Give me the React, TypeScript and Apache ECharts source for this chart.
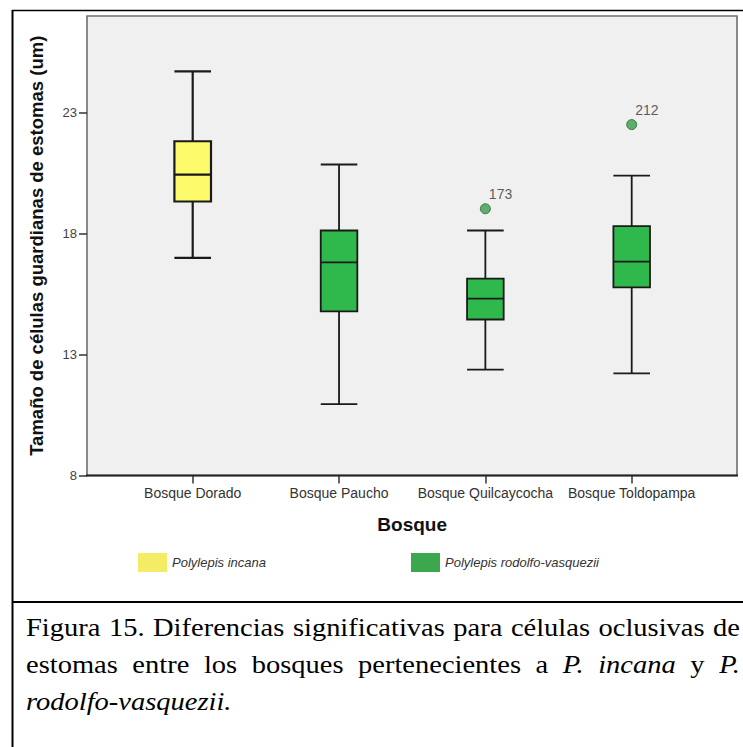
import React, { useEffect, useRef } from 'react';
import * as echarts from 'echarts';

// ---- data ----
const categories = ['Bosque Dorado', 'Bosque Paucho', 'Bosque Quilcaycocha', 'Bosque Toldopampa'];
// [min, Q1, median, Q3, max]
const boxDorado = [17.0, 19.33, 20.44, 21.82, 24.71];
const boxPaucho = [10.95, 14.79, 16.81, 18.13, 20.86];
const boxQuilcaycocha = [12.38, 14.45, 15.31, 16.14, 18.13];
const boxToldopampa = [12.22, 15.78, 16.84, 18.31, 20.4];
const boxes = [boxDorado, boxPaucho, boxQuilcaycocha, boxToldopampa];
const outlierCategories = ['Bosque Quilcaycocha', 'Bosque Toldopampa'];
const outlierValues = [19.03, 22.51];
const outlierIds = ['173', '212'];
const yTicks = [8, 13, 18, 23];
const speciesNames = ['Polylepis incana', 'Polylepis rodolfo-vasquezii'];
const speciesOfCategory = [0, 1, 1, 1];
const yAxisTitle = 'Tamaño de células guardianas de estomas (um)';
const xAxisTitle = 'Bosque';
// caption words: [word, italic]
const captionLine1: [string, boolean][] = [
  ['Figura', false], ['15.', false], ['Diferencias', false], ['significativas', false], ['para', false],
  ['células', false], ['oclusivas', false], ['de', false],
];
const captionLine2: [string, boolean][] = [
  ['estomas', false], ['entre', false], ['los', false], ['bosques', false], ['pertenecientes', false],
  ['a', false], ['P.', true], ['incana', true], ['y', false], ['P.', true],
];
const captionLine3: [string, boolean][] = [['rodolfo-vasquezii.', true]];

// ---- styles ----
const boxColors = ['#fdfb6c', '#2fb84b'];
const legendColors = ['#f3ec64', '#3ca84d'];
const sans = 'Liberation Sans, Arial, sans-serif';
const serif = 'Liberation Serif, Times New Roman, serif';
const CAP_SIZE = 25;
const CAP_STRETCH = 1.14;

function measure(text: string, italic: boolean): number {
  const c = document.createElement('canvas').getContext('2d');
  if (!c) return text.length * CAP_SIZE * 0.45;
  c.font = `${italic ? 'italic ' : ''}${CAP_SIZE}px "Liberation Serif", "Times New Roman", serif`;
  return c.measureText(text).width;
}

function buildLine(words: [string, boolean][], justifyWidth: number | null) {
  const total = words.reduce((s, [w, it]) => s + measure(w, it), 0);
  const gaps = words.length - 1;
  const spaceW = measure(' ', false);
  let gap = spaceW;
  if (justifyWidth && gaps > 0) gap = Math.max(spaceW * 0.8, (justifyWidth - total) / gaps);
  const text = words
    .map(([w, it], k) => `{${it ? 'i' : 'n'}|${w}}` + (k < gaps ? '{s| }' : ''))
    .join('');
  return {
    text,
    rich: {
      n: { fontSize: CAP_SIZE, fontFamily: serif, fill: '#000' },
      i: { fontSize: CAP_SIZE, fontFamily: serif, fontStyle: 'italic', fill: '#000' },
      s: { fontSize: CAP_SIZE, fontFamily: serif, fill: '#000', width: gap },
    },
  };
}

export default function App() {
  const ref = useRef<HTMLDivElement>(null);
  useEffect(() => {
    if (!ref.current) return;
    const chart = echarts.init(ref.current, null, { renderer: 'svg' });

    const capLeft = 26;
    const capWidth = 714 / CAP_STRETCH;
    const l1 = buildLine(captionLine1, capWidth);
    const l2 = buildLine(captionLine2, capWidth);
    const l3 = buildLine(captionLine3, null);
    const capStyle = { fontSize: CAP_SIZE, fontFamily: serif, fill: '#000', verticalAlign: 'middle', align: 'left' };

    const option: any = {
      animation: false,
      grid: { left: 192.7, right: 111.3, top: 16, bottom: 271.5, containLabel: false },
      xAxis: {
        type: 'category',
        data: categories,
        boundaryGap: false,
        axisLine: { show: false },
        axisTick: { show: true, length: 8, lineStyle: { color: '#333', width: 1.5 } },
        axisLabel: { interval: 0, fontSize: 14, color: '#333', margin: 10, fontFamily: sans },
        splitLine: { show: false },
        name: xAxisTitle,
        nameLocation: 'middle',
        nameGap: 39,
        nameTextStyle: { fontSize: 19, fontWeight: 'bold', color: '#111', fontFamily: sans },
      },
      yAxis: {
        type: 'value',
        min: 8,
        max: 27,
        interval: 5,
        offset: 105.7,
        axisLine: { show: false },
        axisTick: { show: true, length: 8, customValues: yTicks, lineStyle: { color: '#333', width: 1.5 } },
        axisLabel: { fontSize: 13, color: '#444', margin: 10, customValues: yTicks, fontFamily: sans },
        splitLine: { show: false },
        name: yAxisTitle,
        nameLocation: 'middle',
        nameGap: 41,
        nameTextStyle: { fontSize: 18.5, fontWeight: 'bold', color: '#111', fontFamily: sans },
      },
      legend: [
        {
          data: [speciesNames[0]],
          left: 138,
          top: 553,
          padding: 0,
          icon: 'rect',
          itemWidth: 29,
          itemHeight: 19,
          selectedMode: false,
          textStyle: { fontStyle: 'italic', fontSize: 13, color: '#333', fontFamily: sans },
        },
        {
          data: [speciesNames[1]],
          left: 411,
          top: 553,
          padding: 0,
          icon: 'rect',
          itemWidth: 29,
          itemHeight: 19,
          selectedMode: false,
          textStyle: { fontStyle: 'italic', fontSize: 13, color: '#333', fontFamily: sans },
        },
      ],
      graphic: [
        {
          type: 'rect',
          z: -10,
          silent: true,
          shape: { x: 87, y: 16, width: 650, height: 459.5 },
          style: { fill: '#f0f0f0', stroke: '#6e6e6e', lineWidth: 1.6 },
        },
        {
          type: 'line',
          z: 10,
          silent: true,
          shape: { x1: 86, y1: 475.5, x2: 738, y2: 475.5 },
          style: { stroke: '#222', lineWidth: 2 },
        },
        { type: 'line', silent: true, shape: { x1: 12.5, y1: 10, x2: 12.5, y2: 747 }, style: { stroke: '#000', lineWidth: 2 } },
        { type: 'line', silent: true, shape: { x1: 12, y1: 10.5, x2: 743, y2: 10.5 }, style: { stroke: '#000', lineWidth: 1.5 } },
        { type: 'line', silent: true, shape: { x1: 12, y1: 602, x2: 743, y2: 602 }, style: { stroke: '#000', lineWidth: 2 } },
        { type: 'text', x: capLeft, y: 628, scaleX: CAP_STRETCH, style: { ...capStyle, text: l1.text, rich: l1.rich } },
        { type: 'text', x: capLeft, y: 665, scaleX: CAP_STRETCH, style: { ...capStyle, text: l2.text, rich: l2.rich } },
        { type: 'text', x: capLeft, y: 702, scaleX: CAP_STRETCH, style: { ...capStyle, text: l3.text, rich: l3.rich } },
      ],
      series: [
        {
          type: 'boxplot',
          name: 'Tamaño',
          boxWidth: [36.6, 36.6],
          z: 3,
          data: categories.map((c, i) => ({
            name: c,
            value: boxes[i],
            itemStyle: {
              color: boxColors[speciesOfCategory[i]],
              borderColor: '#1a1a1a',
              borderWidth: speciesOfCategory[i] === 0 ? 2.2 : 1.8,
            },
          })),
        },
        {
          type: 'scatter',
          name: 'Atípicos',
          z: 4,
          symbol: 'circle',
          symbolSize: 10,
          itemStyle: { color: '#3b9e4c', borderColor: '#24632f', borderWidth: 1 },
          label: {
            show: true,
            formatter: '{b}',
            position: [9, -16],
            fontSize: 14,
            color: '#333',
            fontFamily: sans,
          },
          data: outlierCategories.map((c, i) => ({ name: outlierIds[i], value: [c, outlierValues[i]] })),
        },
        { type: 'bar', name: speciesNames[0], data: [], itemStyle: { color: legendColors[0] } },
        { type: 'bar', name: speciesNames[1], data: [], itemStyle: { color: legendColors[1] } },
      ],
    };
    chart.setOption(option);
    return () => chart.dispose();
  }, []);
  return <div ref={ref} style={{ position: 'fixed', left: 0, top: 0, width: 743, height: 747, background: '#fff' }} />;
}
